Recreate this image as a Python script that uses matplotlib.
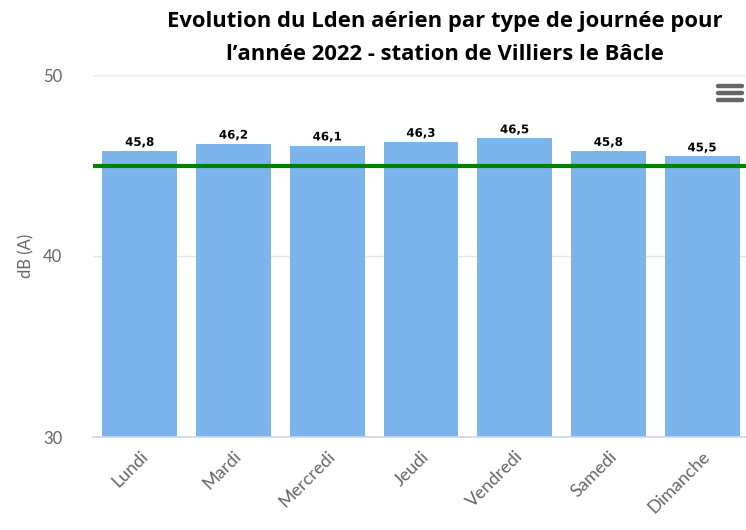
import matplotlib
matplotlib.use("Agg")
import matplotlib.pyplot as plt
import matplotlib.patheffects as pe
from matplotlib.lines import Line2D

# data
days = ["Lundi", "Mardi", "Mercredi", "Jeudi", "Vendredi", "Samedi", "Dimanche"]
lden = [45.8, 46.2, 46.1, 46.3, 46.5, 45.8, 45.5]
labels = ["45,8", "46,2", "46,1", "46,3", "46,5", "45,8", "45,5"]
threshold = 45
yticks = [30, 40, 50]

fig = plt.figure(figsize=(7.46, 5.30), dpi=100)
ax = fig.add_axes([93 / 746, (530 - 437) / 530, 656 / 746, (437 - 75) / 530])

x = range(len(days))
ax.bar(x, lden, width=0.8, color="#7cb5ec", zorder=2)
ax.axhline(threshold, color="#008000", linewidth=3, zorder=3)

# data labels with white outline (highcharts style)
for xi, v, lab in zip(x, lden, labels):
    ax.text(xi, v + 0.12, lab, ha="center", va="bottom", fontsize=8.5,
            fontweight="bold", color="black", family="DejaVu Sans", zorder=4,
            path_effects=[pe.withStroke(linewidth=2.5, foreground="white")])

ax.set_xlim(-0.5, len(days) - 0.5)
ax.set_ylim(30, 50)
ax.set_yticks(yticks)
ax.set_yticklabels([str(t) for t in yticks], color="#666666", fontsize=12, family="Lato")
ax.grid(axis="y", color="#e6e6e6", linewidth=1, zorder=0)
ax.set_xticks(list(x))
ax.set_xticklabels(days, rotation=45, ha="right", rotation_mode="anchor",
                   color="#666666", fontsize=13, family="Lato")
ax.tick_params(axis="x", length=0, pad=8)
ax.tick_params(axis="y", length=0, pad=22)

for s in ["top", "right", "left"]:
    ax.spines[s].set_visible(False)
ax.spines["bottom"].set_color("#ccd6eb")
ax.spines["bottom"].set_linewidth(1.2)

ax.set_ylabel("dB (A)", color="#666666", fontsize=12, family="Lato", labelpad=6)

fig.text(445 / 746, 1 - 22 / 530, "Evolution du Lden aérien par type de journée pour",
         ha="center", va="center", fontsize=15.8, fontweight="bold", family="Open Sans")
fig.text(445 / 746, 1 - 55 / 530, "l\u2019année 2022 - station de Villiers le Bâcle",
         ha="center", va="center", fontsize=15.8, fontweight="bold", family="Open Sans")

# menu icon (three bars) top right
for yy in [86, 93, 100]:
    fig.add_artist(Line2D([718 / 746, 742 / 746], [1 - yy / 530, 1 - yy / 530],
                          color="#666666", linewidth=3.2, solid_capstyle="round"))

fig.savefig("out.png", dpi=100)
